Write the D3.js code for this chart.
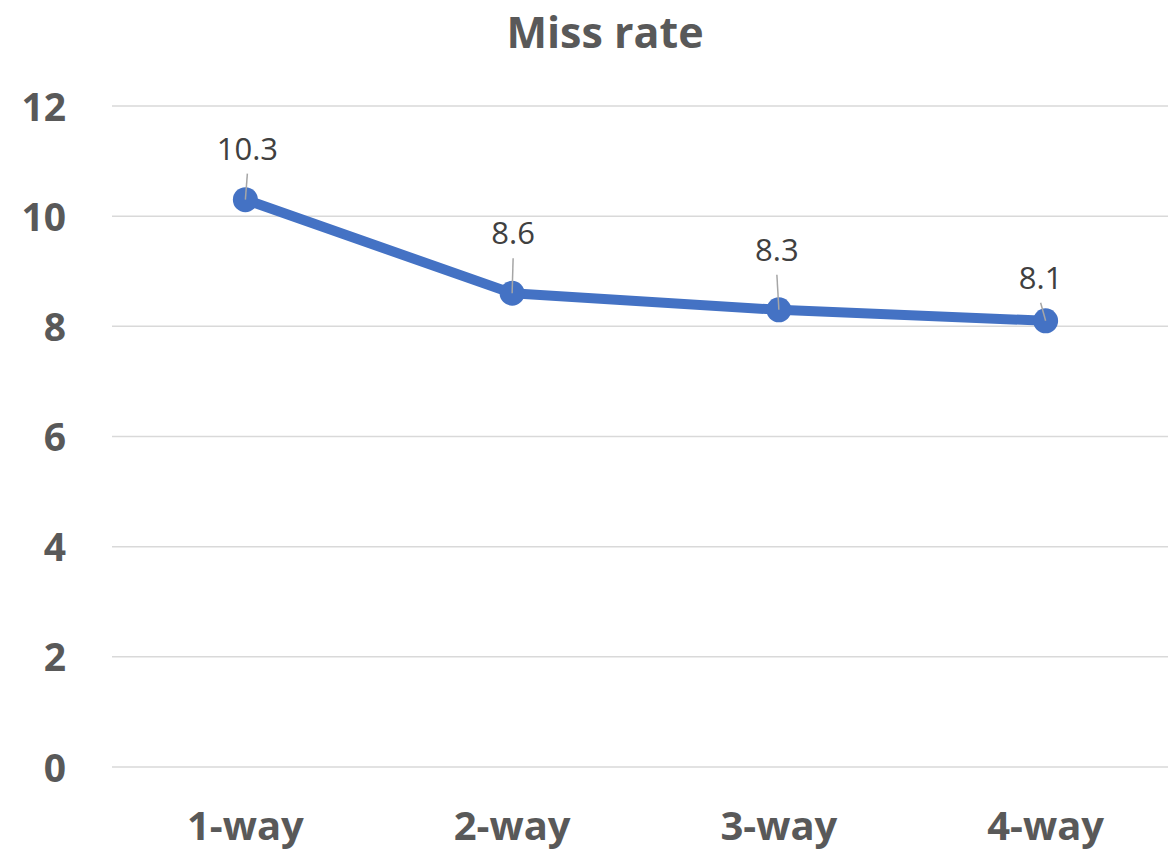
<!DOCTYPE html>
<html>
<head>
<meta charset="utf-8">
<script src="https://cdn.jsdelivr.net/npm/d3@7"></script>
<style>
  html, body { margin: 0; padding: 0; background: #ffffff; overflow: hidden; }
  svg { display: block; }
</style>
</head>
<body>
<svg id="chart" width="1168" height="851"></svg>
<script>
// Data
const categories = ["1-way", "2-way", "3-way", "4-way"];
const missRate = [10.3, 8.6, 8.3, 8.1];
const yTicks = [0, 2, 4, 6, 8, 10, 12];
const chartTitle = "Miss rate";

// Label placement (lift above the point, horizontal nudge)
const labelLift = [40, 49, 49, 32];
const labelNudge = [2, 1, -2, -5];

const W = 1168, H = 851;
const margin = { left: 112, right: -11, top: 106, bottom: 84 };
const svg = d3.select("#chart");

const x = d3.scaleBand()
  .domain(categories)
  .range([margin.left, W - margin.right])
  .padding(0);

const y = d3.scaleLinear()
  .domain([0, 12])
  .range([H - margin.bottom, margin.top]);

const font = "'Open Sans', 'Noto Sans', sans-serif";

// Gridlines
svg.append("g")
  .selectAll("line")
  .data(yTicks)
  .join("line")
  .attr("x1", margin.left)
  .attr("x2", W)
  .attr("y1", d => y(d))
  .attr("y2", d => y(d))
  .attr("stroke", "#d9d9d9")
  .attr("stroke-width", 1.5);

// Y axis labels
const yAxis = d3.axisLeft(y).tickValues(yTicks).tickSize(0).tickPadding(0);
const yg = svg.append("g")
  .attr("transform", `translate(66,0)`)
  .call(yAxis);
yg.select(".domain").remove();
yg.selectAll("text")
  .attr("font-family", font)
  .attr("font-weight", "bold")
  .attr("font-size", 39)
  .attr("fill", "#595959")
  .attr("dy", "0.36em");

// X axis labels
const xAxis = d3.axisBottom(x).tickSize(0).tickPadding(0);
const xg = svg.append("g")
  .attr("transform", `translate(0,840)`)
  .call(xAxis);
xg.select(".domain").remove();
xg.selectAll("text")
  .attr("font-family", font)
  .attr("font-weight", "bold")
  .attr("font-size", 40)
  .attr("fill", "#595959")
  .attr("dy", 0)
  .attr("y", 0);

// Title
svg.append("text")
  .attr("x", 605)
  .attr("y", 48)
  .attr("text-anchor", "middle")
  .attr("font-family", font)
  .attr("font-weight", "bold")
  .attr("font-size", 43)
  .attr("fill", "#595959")
  .text(chartTitle);

const cx = (d, i) => x(categories[i]) + x.bandwidth() / 2;

// Series line
const line = d3.line()
  .x((d, i) => cx(d, i))
  .y(d => y(d));

svg.append("path")
  .datum(missRate)
  .attr("d", line)
  .attr("fill", "none")
  .attr("stroke", "#4472c4")
  .attr("stroke-width", 10)
  .attr("stroke-linejoin", "round");

// Markers
svg.append("g")
  .selectAll("circle")
  .data(missRate)
  .join("circle")
  .attr("cx", cx)
  .attr("cy", d => y(d))
  .attr("r", 12.5)
  .attr("fill", "#4472c4");

// Leader lines
svg.append("g")
  .selectAll("line")
  .data(missRate)
  .join("line")
  .attr("x1", (d, i) => cx(d, i) + labelNudge[i])
  .attr("y1", (d, i) => y(d) - labelLift[i] + 14)
  .attr("x2", cx)
  .attr("y2", d => y(d))
  .attr("stroke", "#a6a6a6")
  .attr("stroke-width", 1.5);

// Data labels
svg.append("g")
  .selectAll("text")
  .data(missRate)
  .join("text")
  .attr("x", (d, i) => cx(d, i) + labelNudge[i])
  .attr("y", (d, i) => y(d) - labelLift[i])
  .attr("text-anchor", "middle")
  .attr("font-family", font)
  .attr("font-size", 31)
  .attr("fill", "#404040")
  .text(d => d.toFixed(1));
</script>
</body>
</html>
